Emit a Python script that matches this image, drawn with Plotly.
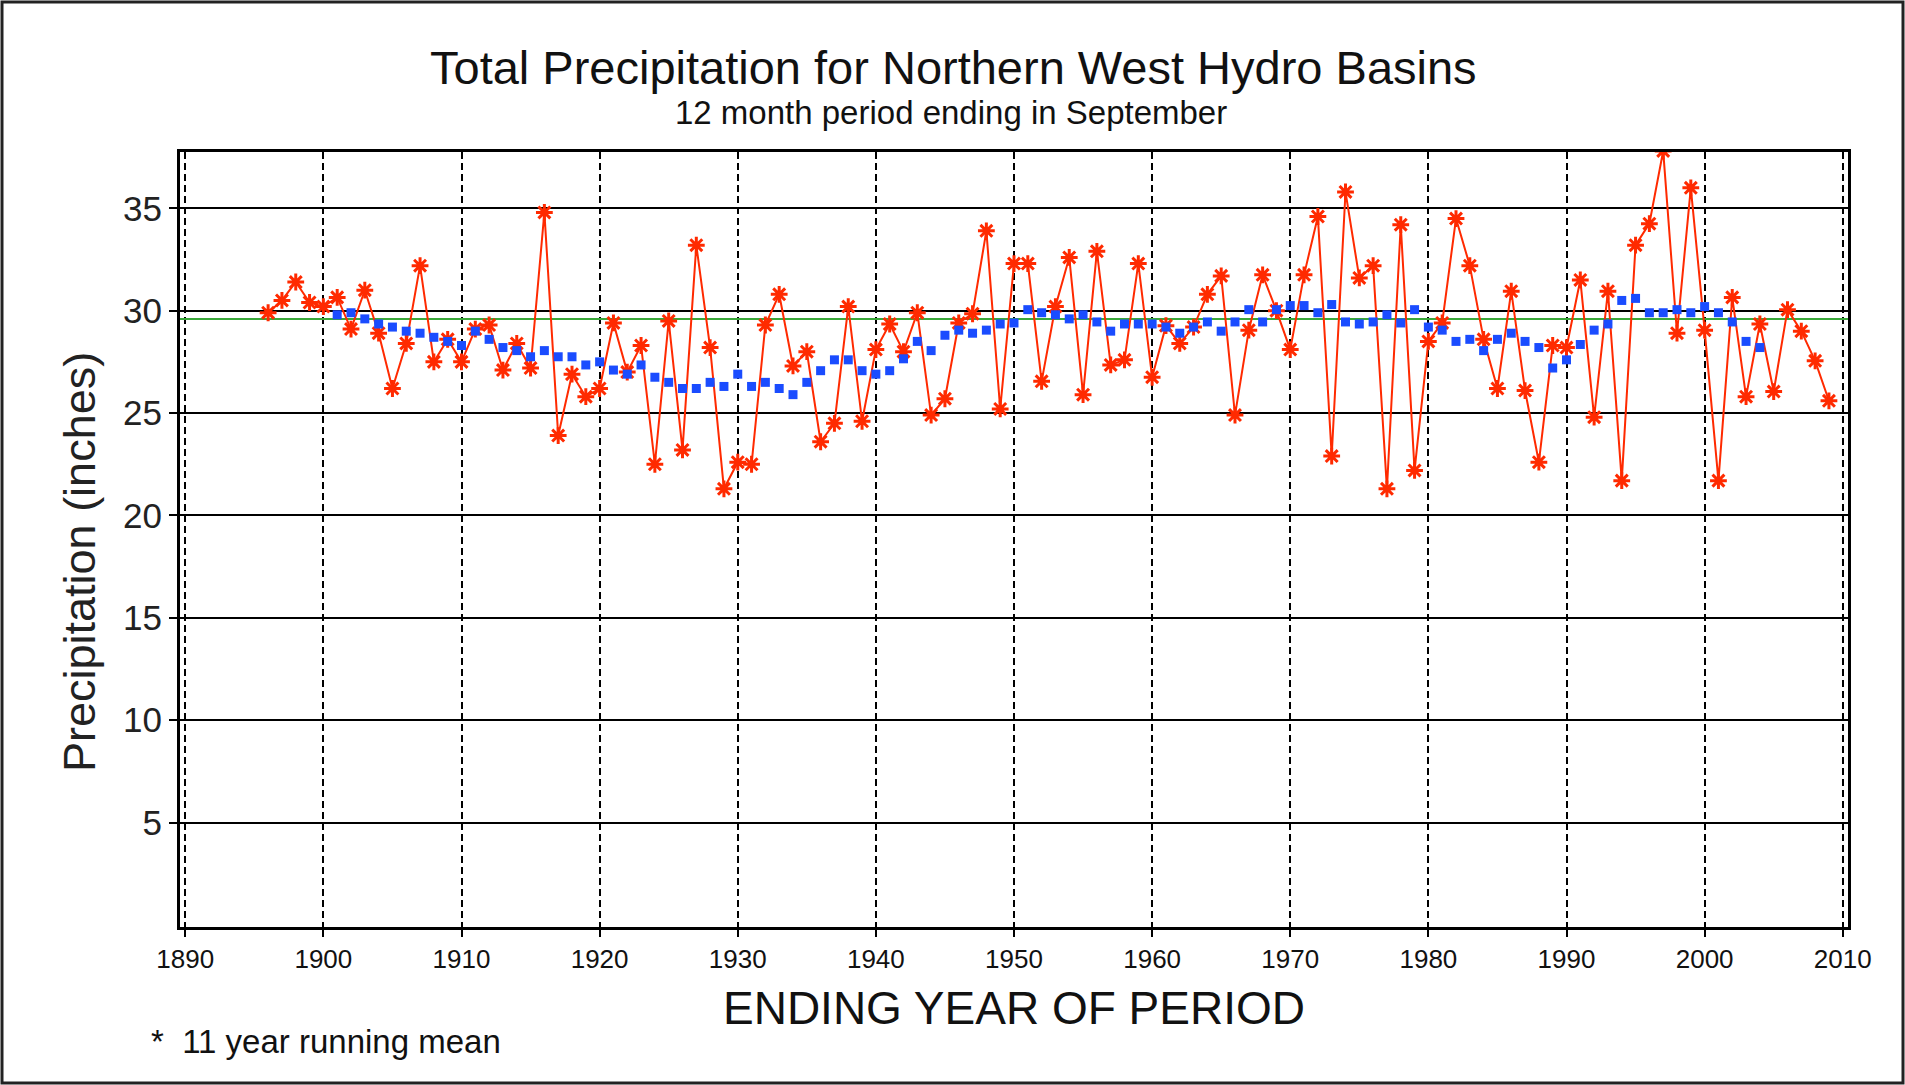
import plotly.graph_objects as go

# ---------------- data ----------------
obs_years = list(range(1896, 2010))
precip = [
    29.9, 30.5, 31.4, 30.4, 30.2, 30.65, 29.1, 31.0, 28.9, 26.2,   # 1896-1905
    28.4, 32.2, 27.5, 28.6, 27.5, 29.1, 29.3, 27.1, 28.4, 27.2,    # 1906-1915
    34.8, 23.9, 26.9, 25.8, 26.2, 29.4, 27.0, 28.3, 22.5, 29.5,    # 1916-1925
    23.2, 33.2, 28.2, 21.3, 22.6, 22.5, 29.3, 30.8, 27.3, 28.0,    # 1926-1935
    23.6, 24.5, 30.2, 24.6, 28.1, 29.35, 28.0, 29.9, 24.9, 25.7,   # 1936-1945
    29.4, 29.85, 33.9, 25.2, 32.3, 32.3, 26.55, 30.2, 32.6, 25.9,  # 1946-1955
    32.9, 27.35, 27.6, 32.3, 26.75, 29.27, 28.4, 29.2, 30.8, 31.7, # 1956-1965
    24.9, 29.05, 31.75, 30.0, 28.1, 31.75, 34.6, 22.9, 35.8, 31.6, # 1966-1975
    32.2, 21.3, 34.2, 22.2, 28.5, 29.4, 34.5, 32.2, 28.6, 26.2,    # 1976-1985
    30.95, 26.1, 22.6, 28.3, 28.2, 31.5, 24.8, 30.95, 21.7, 33.2,  # 1986-1995
    34.25, 37.8, 28.9, 36.0, 29.05, 21.7, 30.65, 25.8, 29.35, 26.05, # 1996-2005
    30.05, 29.0, 27.55, 25.6,                                      # 2006-2009
]

mean_years = list(range(1901, 2005))
running_mean = [
    29.8, 29.9, 29.6, 29.35, 29.2, 29.0, 28.9, 28.7, 28.5, 28.3,   # 1901-1910
    29.0, 28.6, 28.2, 28.05, 27.75, 28.05, 27.75, 27.75, 27.35, 27.5, # 1911-1920
    27.1, 26.9, 27.35, 26.75, 26.5, 26.2, 26.2, 26.5, 26.3, 26.9,  # 1921-1930
    26.3, 26.5, 26.2, 25.9, 26.5, 27.07, 27.6, 27.6, 27.07, 26.9,  # 1931-1940
    27.07, 27.65, 28.5, 28.05, 28.8, 29.05, 28.9, 29.05, 29.35, 29.4, # 1941-1950
    30.05, 29.9, 29.8, 29.6, 29.8, 29.45, 29.0, 29.35, 29.35, 29.35, # 1951-1960
    29.2, 28.9, 29.2, 29.45, 29.0, 29.45, 30.05, 29.45, 30.05, 30.25, # 1961-1970
    30.25, 29.9, 30.3, 29.45, 29.35, 29.45, 29.8, 29.4, 30.05, 29.2, # 1971-1980
    29.05, 28.5, 28.6, 28.05, 28.6, 28.9, 28.5, 28.2, 27.2, 27.6,  # 1981-1990
    28.35, 29.05, 29.35, 30.5, 30.6, 29.9, 29.9, 30.05, 29.9, 30.2, # 1991-2000
    29.9, 29.45, 28.5, 28.2,                                       # 2001-2004
]

long_term_mean = 29.6
x_ticks = list(range(1890, 2011, 10))
y_ticks = [5, 10, 15, 20, 25, 30, 35]
x_range = [1889.62, 2010.38]
y_range = [-0.1, 37.75]

# ---------------- layout geometry (pixels) ----------------
W, H = 1905, 1085
L, R, T, B = 180, 1848, 152, 927
PW, PH = R - L, B - T

def px(x):
    return (x - L) / PW

def py(y):
    return (B - y) / PH

FONT = "Liberation Sans, Arial, Helvetica, sans-serif"
RED = "#ff2a00"
BLUE = "#1a4cff"
GREEN = "#3aa83a"

fig = go.Figure()

fig.add_trace(go.Scatter(
    x=x_range, y=[long_term_mean, long_term_mean], mode="lines",
    line=dict(color=GREEN, width=2), hoverinfo="skip", showlegend=False,
))

fig.add_trace(go.Scatter(
    x=obs_years, y=precip, mode="lines+markers",
    line=dict(color=RED, width=2),
    marker=dict(symbol="asterisk-open", size=14, color=RED,
                line=dict(color=RED, width=3)),
    cliponaxis=True, showlegend=False, name="Precipitation",
))

fig.add_trace(go.Scatter(
    x=mean_years, y=running_mean, mode="markers",
    marker=dict(symbol="square", size=9, color=BLUE, line=dict(width=0)),
    showlegend=False, name="11 year running mean",
))

fig.update_xaxes(
    range=x_range, tickvals=x_ticks, ticktext=[str(v) for v in x_ticks],
    showgrid=True, gridcolor="black", gridwidth=1.6, griddash="7px,4px",
    showline=True, linecolor="black", linewidth=3, mirror=True,
    ticks="outside", ticklen=7, tickwidth=1.5, tickcolor="black",
    tickfont=dict(family=FONT, size=26, color="#111"),
    zeroline=False,
)
fig.update_yaxes(
    range=y_range, tickvals=y_ticks, ticktext=[str(v) for v in y_ticks],
    showgrid=True, gridcolor="black", gridwidth=2,
    showline=True, linecolor="black", linewidth=3, mirror=True,
    ticks="outside", ticklen=8, tickwidth=1.5, tickcolor="black",
    tickfont=dict(family=FONT, size=35, color="#222"),
    zeroline=False,
)

annotations = [
    dict(text="Total Precipitation for Northern West Hydro Basins",
         x=px(953), y=py(68), font=dict(family=FONT, size=47, color="#111")),
    dict(text="12 month period ending in September",
         x=px(951), y=py(112), font=dict(family=FONT, size=33, color="#111")),
    dict(text="ENDING YEAR OF PERIOD",
         x=px(1014), y=py(1008), font=dict(family=FONT, size=46, color="#111")),
    dict(text="Precipitation (inches)", textangle=-90,
         x=px(79), y=py(562), font=dict(family=FONT, size=45, color="#222")),
    dict(text="*  11 year running mean", xanchor="left",
         x=px(149), y=py(1041), font=dict(family=FONT, size=33, color="#111")),
]
for a in annotations:
    a.setdefault("xanchor", "center")
    a.update(xref="paper", yref="paper", yanchor="middle", showarrow=False)

fig.update_layout(
    width=W, height=H,
    margin=dict(l=L, r=W - R, t=T, b=H - B, pad=0),
    paper_bgcolor="white", plot_bgcolor="white",
    annotations=annotations,
    shapes=[dict(type="rect", xref="paper", yref="paper",
                 x0=px(2), x1=px(1903), y0=py(1083), y1=py(2),
                 line=dict(color="#222", width=3), layer="above")],
    showlegend=False,
)

fig.write_html("out.html", config={"displayModeBar": False})
